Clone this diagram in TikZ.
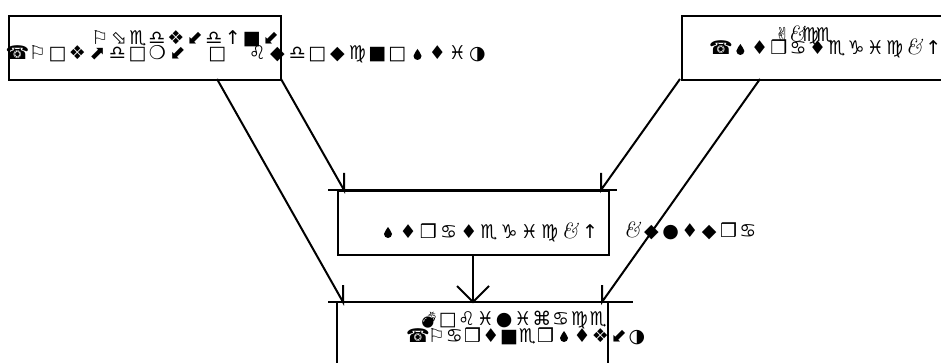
\documentclass[tikz,border=0pt]{standalone}
\usepackage{fontspec}
\newfontfamily\symf{DejaVu Sans}
\newfontfamily\emof{Noto Emoji}
\newlength\gp
\newcommand\gl[1]{\makebox[\gp][c]{#1}}
\newcommand\kamp{{\fontspec{Latin Modern Roman}\itshape\fontsize{22}{22}\selectfont\&}}
\newcommand\bomb{{\emof\fontsize{16}{16}\selectfont 💣}}
\newcommand\drop{\tikz[x=1pt,y=1pt,baseline=0pt]\fill[black] (0,11) .. controls (1,8) and (4,7) .. (4,4) arc[start angle=0,end angle=-180,radius=4] .. controls (-4,7) and (-1,8) .. (0,11) -- cycle;}
\tikzset{
  txt/.style={inner sep=0pt, anchor=base, font=\symf\fontsize{19}{19}\selectfont},
  boxx/.style={draw, line width=2pt, inner sep=0pt, anchor=north west},
  con/.style={line width=2pt},
}
\begin{document}
\begin{tikzpicture}[x=1pt,y=-1pt]
\useasboundingbox (0,0) rectangle (941,363);
% boxes
\node[boxx, minimum width=272pt, minimum height=64pt] (tl) at (8,15) {};
\node[boxx, minimum width=290pt, minimum height=64pt] (tr) at (681,15) {};
\node[boxx, minimum width=271pt, minimum height=64pt] (mid) at (337,190) {};
\draw[con] (328,190) -- (617,190);
\coordinate (bl) at (337,302);
\coordinate (br) at (608,302);
\draw[con] (bl) -- (337,375);
\draw[con] (br) -- (608,375);
\draw[con] (328,302) -- (633,302);
% connector end points
\coordinate (s1) at (217,79);
\coordinate (s2) at (281,79);
\coordinate (s3) at (680,79);
\coordinate (s4) at (760,79);
\coordinate (t1) at (343,302);
\coordinate (t2) at (344,190);
\coordinate (t3) at (601,190);
\coordinate (t4) at (602,302);
\coordinate (s5) at (473,254);
\coordinate (t5) at (473,302);
\draw[con] (s1) -- (t1) -- ++(0,-17);
\draw[con] (s2) -- (t2) -- ++(0,-17);
\draw[con] (s3) -- (t3) -- ++(0,-17);
\draw[con] (s4) -- (t4) -- ++(0,-17);
\draw[con] (s5) -- (t5);
\draw[con] (457,286) -- (t5) -- (489,286);
% texts
\node[txt] (tlA) at (185.5,45) {\setlength\gp{19pt}\gl{⚐}\gl{⬂}\gl{♏}\gl{♎}\gl{❖}\gl{⬋}\gl{♎}\gl{↑}\gl{■}\gl{⬋}};
\node[txt] (tlB) at (247.5,60) {\setlength\gp{20pt}\gl{☎}\gl{⚐}\gl{□}\gl{❖}\gl{⬈}\gl{♎}\gl{□}\gl{❍}\gl{⬋}\gl{}\gl{□}\gl{}\gl{♌}\gl{◆}\gl{♎}\gl{□}\gl{◆}\gl{♍}\gl{■}\gl{□}\gl{\drop}\gl{♦}\gl{♓}\gl{◑}};
\node[txt] (trA) at (803.5,42) {\setlength\gp{14pt}\gl{✌}\gl{\kamp}\gl{♍}\gl{♏}};
\node[txt] (trB) at (827.2,55) {\setlength\gp{19.3pt}\gl{☎}\gl{\drop}\gl{♦}\gl{❒}\gl{♋}\gl{♦}\gl{♏}\gl{♑}\gl{♓}\gl{♍}\gl{\kamp}\gl{↑}};
\node[txt] (midA) at (489,238) {\setlength\gp{20.2pt}\gl{\drop}\gl{♦}\gl{❒}\gl{♋}\gl{♦}\gl{♏}\gl{♑}\gl{♓}\gl{♍}\gl{\kamp}\gl{↑}};
\node[txt] (rtA) at (690,237) {\setlength\gp{19.3pt}\gl{\kamp}\gl{◆}\gl{●}\gl{♦}\gl{◆}\gl{❒}\gl{♋}};
\node[txt] (btA) at (513.6,325) {\setlength\gp{18.8pt}\gl{\bomb}\gl{□}\gl{♌}\gl{♓}\gl{●}\gl{♓}\gl{⌘}\gl{♋}\gl{♍}\gl{♏}};
\node[txt] (btB) at (527.5,342) {\setlength\gp{18.25pt}\gl{☎}\gl{⚐}\gl{♋}\gl{❒}\gl{♦}\gl{■}\gl{♏}\gl{❒}\gl{\drop}\gl{♦}\gl{❖}\gl{⬋}\gl{◑}};
\end{tikzpicture}
\end{document}
